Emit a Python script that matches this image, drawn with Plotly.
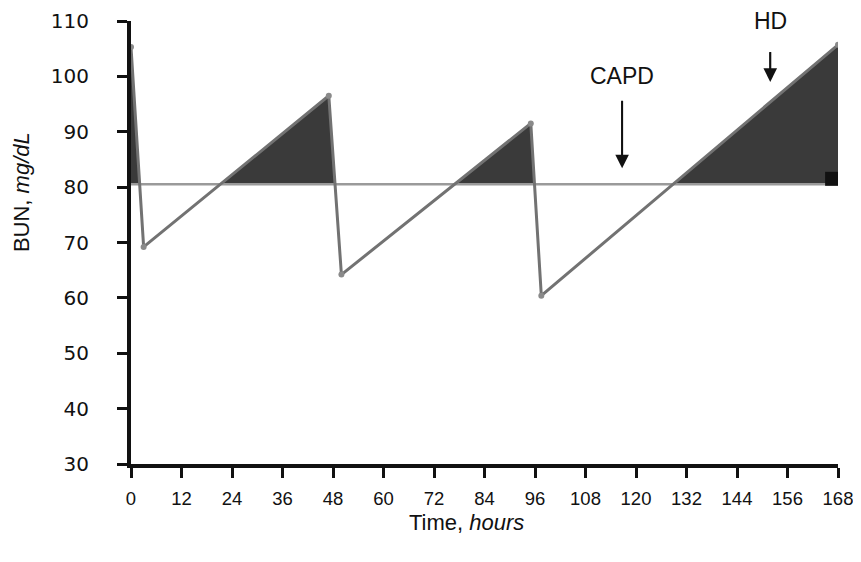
import plotly.graph_objects as go

# Data
time_h = [0, 3, 47, 50, 95, 97.5, 168]
bun = [105.3, 69.2, 96.5, 64.2, 91.5, 60.4, 105.7]
steady_bun = 80.5          # CAPD equivalent level (horizontal line)
x_ticks = list(range(0, 169, 12))
y_ticks = list(range(30, 111, 10))
capd_arrow = {"label": "CAPD", "x": 116.7, "y_head": 83.4, "y_tail": 95.6, "y_text": 100.0}
hd_arrow = {"label": "HD", "x": 151.9, "y_head": 99.0, "y_tail": 104.4, "y_text": 110.0}
hd_marker_time = [166.6]
hd_marker_bun = [81.5]

# Build fill polygon (curve above steady level), including crossing points
px, py = [], []
for i in range(len(time_h) - 1):
    t0, t1, y0, y1 = time_h[i], time_h[i + 1], bun[i], bun[i + 1]
    px.append(t0); py.append(max(y0, steady_bun))
    if (y0 - steady_bun) * (y1 - steady_bun) < 0:
        tc = t0 + (steady_bun - y0) * (t1 - t0) / (y1 - y0)
        px.append(tc); py.append(steady_bun)
px.append(time_h[-1]); py.append(max(bun[-1], steady_bun))
px += [time_h[-1], time_h[0]]
py += [steady_bun, steady_bun]

fig = go.Figure()
fig.add_trace(go.Scatter(x=px, y=py, mode="lines", fill="toself",
                         fillcolor="#3a3a3a", line=dict(width=0, color="#3a3a3a"),
                         hoverinfo="skip", showlegend=False))
fig.add_trace(go.Scatter(x=[time_h[0], time_h[-1]], y=[steady_bun, steady_bun],
                         mode="lines", line=dict(color="#9a9a9a", width=2.5),
                         showlegend=False))
fig.add_trace(go.Scatter(x=time_h, y=bun, mode="lines+markers",
                         line=dict(color="#727272", width=3),
                         marker=dict(color="#8a8a8a", size=6),
                         showlegend=False))
fig.add_trace(go.Scatter(x=hd_marker_time, y=hd_marker_bun, mode="markers",
                         marker=dict(symbol="square", color="#111111", size=14),
                         showlegend=False))

FAM = "Liberation Sans, Arial, Helvetica, sans-serif"
x_tick_font = dict(family=FAM, size=18.5, color="#111")
y_tick_font = dict(family="DejaVu Sans, " + FAM, size=20, color="#111")
big_font = dict(family=FAM, size=23, color="#111")

for arr in (capd_arrow, hd_arrow):
    # shaft
    fig.add_shape(type="line", xref="x", yref="y",
                  x0=arr["x"], x1=arr["x"], y0=arr["y_tail"], y1=arr["y_head"] + 2,
                  line=dict(color="#111", width=2))
    # head
    fig.add_annotation(x=arr["x"], y=arr["y_head"], ax=arr["x"], ay=arr["y_tail"],
                       xref="x", yref="y", axref="x", ayref="y", text="",
                       font=dict(size=1), borderpad=0,
                       showarrow=True, arrowhead=2, arrowsize=1.7, arrowwidth=1.6,
                       arrowcolor="#111")
    fig.add_annotation(x=arr["x"], y=arr["y_text"], xref="x", yref="y",
                       text=arr["label"], showarrow=False, yanchor="middle",
                       font=big_font)

# Axis titles placed as annotations (positions measured from reference)
fig.add_annotation(text="Time, <i>hours</i>", xref="paper", yref="paper",
                   x=0.475, y=-0.131, showarrow=False, yanchor="middle",
                   font=dict(family=FAM, size=22, color="#111"))
fig.add_annotation(text="BUN, <i>mg/dL</i>", xref="paper", yref="paper",
                   x=-0.154, y=0.614, showarrow=False, textangle=-90,
                   xanchor="center", yanchor="middle",
                   font=dict(family=FAM, size=22, color="#111"))

fig.update_layout(
    width=853, height=554,
    margin=dict(l=123, r=23, t=13, b=98),
    paper_bgcolor="white", plot_bgcolor="white",
    font=x_tick_font,
    xaxis=dict(range=[0, 168], tickvals=x_ticks, showgrid=False, zeroline=False,
               showline=True, linecolor="#111", linewidth=4,
               ticks="outside", ticklen=10, tickwidth=3, tickcolor="#111",
               tickfont=x_tick_font, ticklabelstandoff=5, automargin=False),
    yaxis=dict(range=[30, 110], tickvals=y_ticks, showgrid=False, zeroline=False,
               showline=True, linecolor="#111", linewidth=4,
               ticks="outside", ticklen=10, tickwidth=3, tickcolor="#111",
               tickfont=y_tick_font, ticklabelstandoff=24, automargin=False),
)

fig.write_html("out.html")
